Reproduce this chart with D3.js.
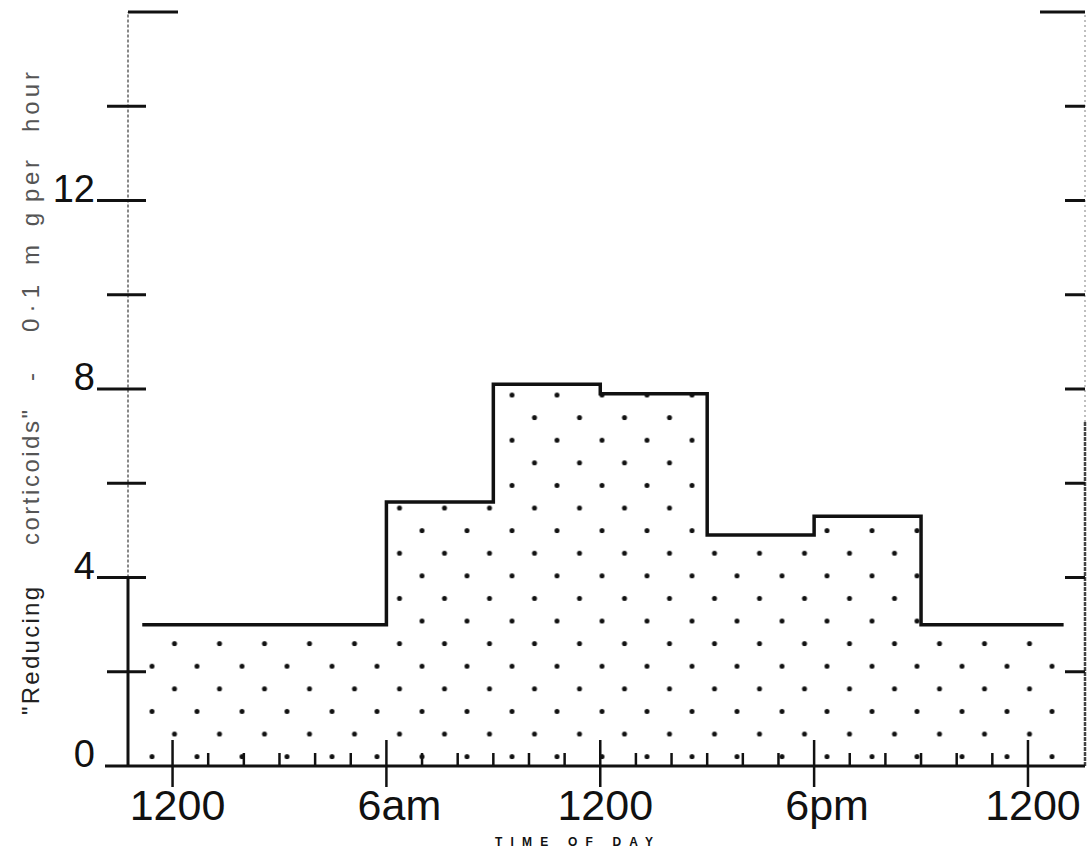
<!DOCTYPE html>
<html>
<head>
<meta charset="utf-8">
<script src="https://cdn.jsdelivr.net/npm/d3@7"></script>
<style>
  html, body { margin: 0; padding: 0; background: #fff; }
  svg { display: block; }
  text { font-family: "Liberation Sans", Arial, sans-serif; }
</style>
</head>
<body>
<div id="chart"></div>
<script>
// step edges (hours from midnight) and excretion rate per step
var hourEdges = [-0.85, 6, 9, 12, 15, 18, 21, 25];
var rates = [3.0, 5.6, 8.1, 7.9, 4.9, 5.3, 3.0];

// axis ticks
var xMajorHours = [0, 6, 12, 18, 24];
var xMajorLabels = ["1200", "6am", "1200", "6pm", "1200"];
var xMinorHours = d3.range(1, 24).filter(h => h % 6 != 0);
var yTickValues = [2, 4, 6, 8, 10, 12, 14];
var yLabelValues = [0, 4, 8, 12];

var titleWords = ['"Reducing', 'corticoids"', '-', '0·1', 'mg', 'per', 'hour'];

var width = 1089, height = 853;
var ink = "#111";

var svg = d3.select("#chart").append("svg")
    .attr("width", width)
    .attr("height", height);

var x = d3.scaleLinear().domain([-1.25, 25.6]).range([128, 1085]);
var y = d3.scaleLinear().domain([0, 16]).range([766, 12]);

// stipple pattern
var defs = svg.append("defs");
var pat = defs.append("pattern")
    .attr("id", "dots")
    .attr("patternUnits", "userSpaceOnUse")
    .attr("x", 28.5).attr("y", -0.5)
    .attr("width", 45).attr("height", 45.2);
pat.append("circle").attr("cx", 11).attr("cy", 11.3).attr("r", 2.5).attr("fill", ink);
pat.append("circle").attr("cx", 33.5).attr("cy", 33.9).attr("r", 2.5).attr("fill", ink);

var steps = hourEdges.map((h, i) => ({h: h, v: rates[Math.min(i, rates.length - 1)]}));

var area = d3.area()
    .x(d => x(d.h))
    .y0(y(0))
    .y1(d => y(d.v))
    .curve(d3.curveStepAfter);

var line = d3.line()
    .x(d => x(d.h))
    .y(d => y(d.v))
    .curve(d3.curveStepAfter);

svg.append("path")
    .datum(steps)
    .attr("d", area)
    .attr("fill", "url(#dots)");

svg.append("path")
    .datum(steps)
    .attr("d", line)
    .attr("fill", "none")
    .attr("stroke", ink)
    .attr("stroke-width", 3.5);

// left axis: solid low part, faded upper part
svg.append("line")
    .attr("x1", x.range()[0]).attr("x2", x.range()[0])
    .attr("y1", y(0)).attr("y2", y(4))
    .attr("stroke", ink).attr("stroke-width", 3);
svg.append("line")
    .attr("x1", x.range()[0]).attr("x2", x.range()[0])
    .attr("y1", y(4)).attr("y2", y(16))
    .attr("stroke", "#888").attr("stroke-width", 2)
    .attr("stroke-dasharray", "3,2");

// right axis
svg.append("line")
    .attr("x1", x.range()[1]).attr("x2", x.range()[1])
    .attr("y1", y(0)).attr("y2", y(7.3))
    .attr("stroke", "#444").attr("stroke-width", 2.5)
    .attr("stroke-dasharray", "4,1");
svg.append("line")
    .attr("x1", x.range()[1]).attr("x2", x.range()[1])
    .attr("y1", y(7.3)).attr("y2", y(16))
    .attr("stroke", "#aaa").attr("stroke-width", 1.5)
    .attr("stroke-dasharray", "2,3");

// y ticks, left (crossing) and right (inside)
svg.selectAll(".ytl")
    .data(yTickValues)
    .enter().append("line")
    .attr("x1", d => yLabelValues.indexOf(d) >= 0 ? 97 : 107)
    .attr("x2", 146)
    .attr("y1", d => y(d)).attr("y2", d => y(d))
    .attr("stroke", ink).attr("stroke-width", 3);

svg.selectAll(".ytr")
    .data(yTickValues)
    .enter().append("line")
    .attr("x1", x.range()[1] - 20).attr("x2", x.range()[1])
    .attr("y1", d => y(d)).attr("y2", d => y(d))
    .attr("stroke", ink).attr("stroke-width", 3);

// top caps
svg.append("line")
    .attr("x1", x.range()[0]).attr("x2", x.range()[0] + 50)
    .attr("y1", y(16)).attr("y2", y(16))
    .attr("stroke", ink).attr("stroke-width", 3);
svg.append("line")
    .attr("x1", x.range()[1] - 45).attr("x2", x.range()[1])
    .attr("y1", y(16)).attr("y2", y(16))
    .attr("stroke", ink).attr("stroke-width", 3);

svg.selectAll(".ylab")
    .data(yLabelValues)
    .enter().append("text")
    .attr("x", 95)
    .attr("y", d => y(d) + 1)
    .attr("text-anchor", "end")
    .style("font-size", "38px")
    .attr("fill", ink)
    .text(d => d);

// baseline
svg.append("line")
    .attr("x1", 105).attr("x2", x.range()[1])
    .attr("y1", y(0)).attr("y2", y(0))
    .attr("stroke", ink).attr("stroke-width", 3);

// x ticks
svg.selectAll(".xmin")
    .data(xMinorHours)
    .enter().append("line")
    .attr("x1", d => x(d)).attr("x2", d => x(d))
    .attr("y1", y(0) - 13).attr("y2", y(0))
    .attr("stroke", ink).attr("stroke-width", 2.5);

svg.selectAll(".xmaj")
    .data(xMajorHours)
    .enter().append("line")
    .attr("x1", d => x(d)).attr("x2", d => x(d))
    .attr("y1", y(0) - 26).attr("y2", y(0) + 21)
    .attr("stroke", ink).attr("stroke-width", 2.5);

svg.selectAll(".xlab")
    .data(xMajorHours)
    .enter().append("text")
    .attr("x", (d, i) => x(d) + (xMajorLabels[i][0] == "6" ? 13 : 5))
    .attr("y", 820)
    .attr("text-anchor", "middle")
    .style("font-size", "43px")
    .attr("fill", ink)
    .text((d, i) => xMajorLabels[i]);

svg.append("text")
    .attr("x", 495)
    .attr("y", 846)
    .attr("textLength", 158)
    .attr("lengthAdjust", "spacing")
    .style("font-size", "12px")
    .style("font-weight", "bold")
    .attr("fill", ink)
    .text("TIME OF DAY");

// rotated y title, word by word like the hand lettering
var titleStart = [715, 545, 381, 332, 265, 202, 132];
var titleLen = [128, 135, 6, 47, 52, 42, 60];
var tg = svg.append("g").attr("transform", "translate(39,0) rotate(-90)");
tg.selectAll("text")
    .data(titleWords)
    .enter().append("text")
    .attr("x", (d, i) => -titleStart[i])
    .attr("y", 0)
    .attr("textLength", (d, i) => titleLen[i])
    .attr("lengthAdjust", "spacing")
    .style("font-size", "24px")
    .attr("fill", (d, i) => i < 1 ? "#222" : "#555")
    .text(d => d);
</script>
</body>
</html>
